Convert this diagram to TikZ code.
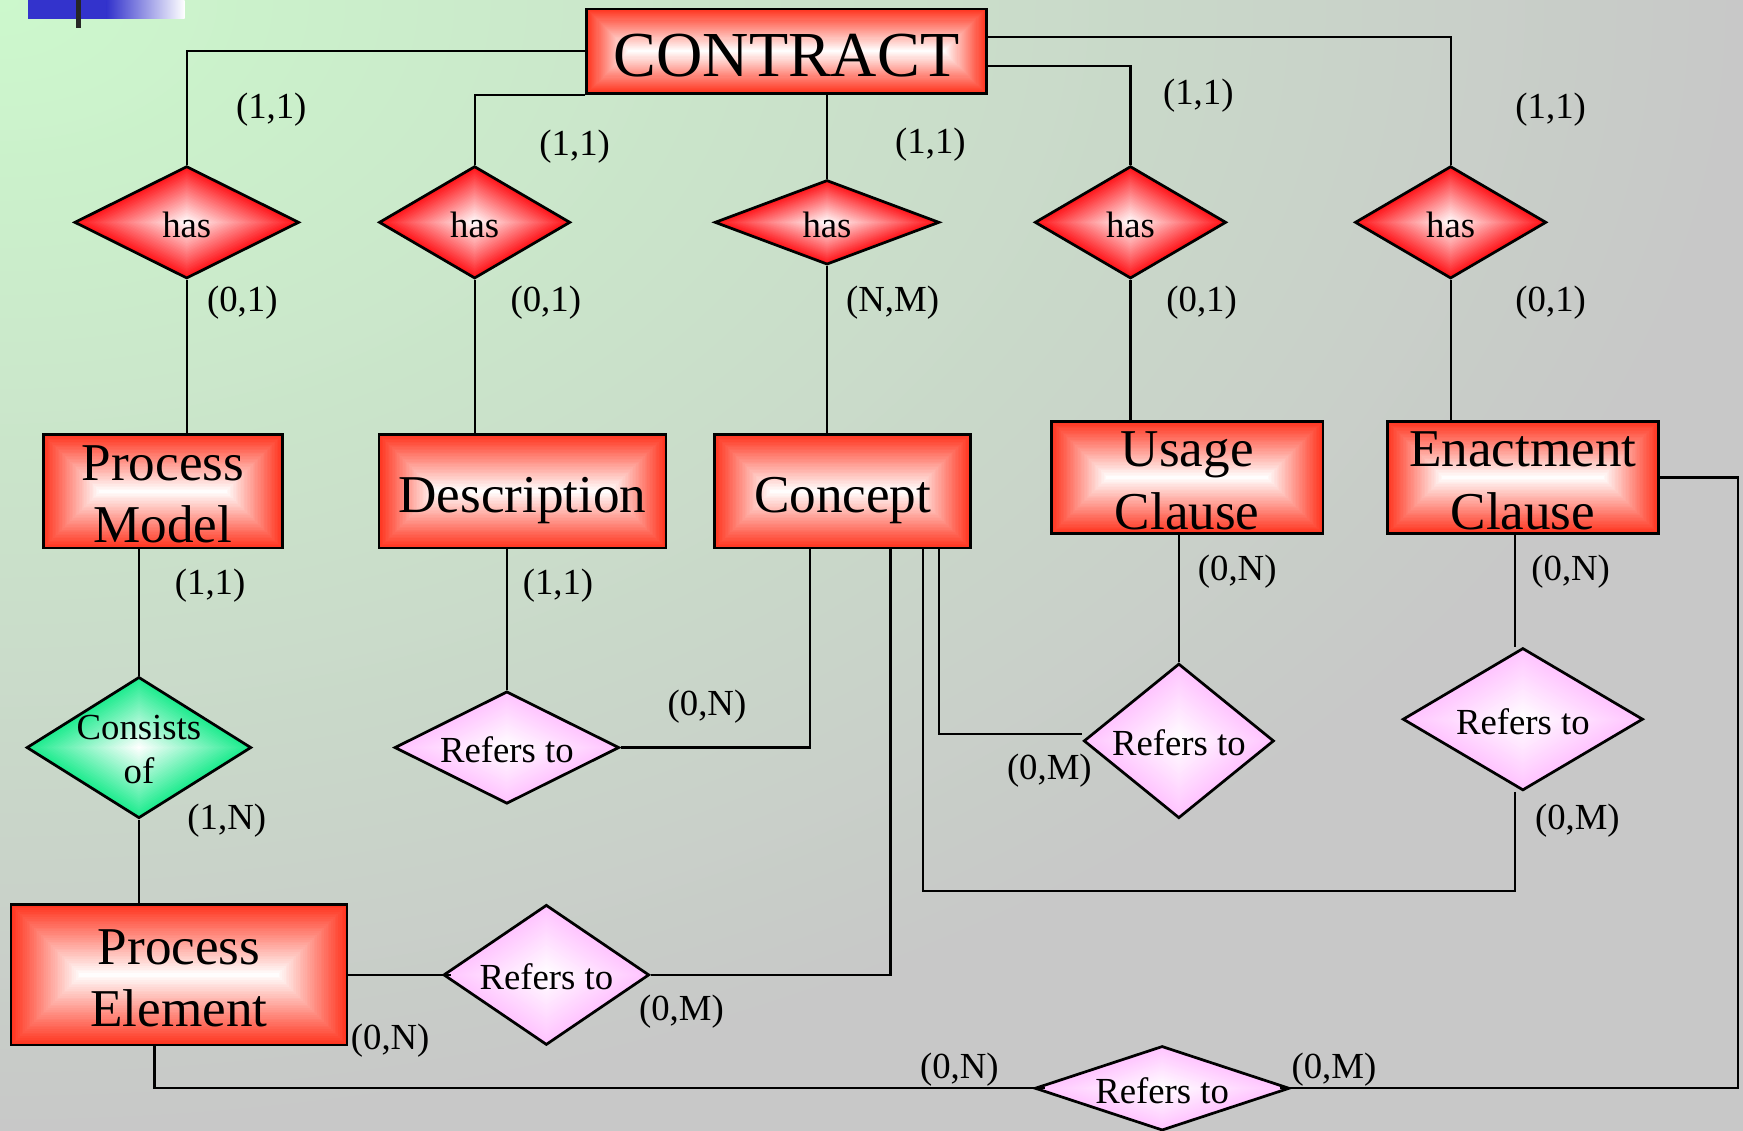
\documentclass[tikz,border=0pt]{standalone}
\usepackage{fontspec}
\setmainfont{Liberation Serif}
\usetikzlibrary{shapes.geometric}
\definecolor{entred}{RGB}{255,50,28}
\definecolor{diared}{RGB}{255,15,20}
\definecolor{pinkc}{RGB}{255,195,255}
\definecolor{greenc}{RGB}{25,235,140}
\definecolor{bgA}{RGB}{204,248,204}
\definecolor{bgC}{RGB}{200,200,200}
\definecolor{blueC}{RGB}{51,51,204}
\newcommand\fSm{\fontsize{9.4pt}{11.2pt}\selectfont}
\newcommand\fEnt{\fontsize{13.6pt}{15.9pt}\selectfont}
\newcommand\fBig{\fontsize{16.4pt}{19pt}\selectfont}
% rectangle gradient (equal inset from every edge): centre x, centre y, half width, half height
\newcommand\rectshade[4]{%
 \foreach \k in {0,...,39}{%
   \pgfmathsetmacro\dd{#4*\k/40}%
   \pgfmathtruncatemacro\pc{100*(1-(\k+0.5)/40)+0.5}%
   \fill[entred!\pc!white] (#1-#3+\dd,#2-#4+\dd) rectangle (#1+#3-\dd,#2+#4-\dd);
 }}
% diamond gradient built from nested diamonds
\newcommand\diashade[5]{%
 \foreach \k in {0,...,39}{%
   \pgfmathsetmacro\sc{1-\k/40}%
   \pgfmathtruncatemacro\pc{100*(1-(\k+0.5)/40)+0.5}%
   \fill[#5!\pc!white, shift={(#1,#2)}, scale=\sc] (-#3,0) -- (0,#4) -- (#3,0) -- (0,-#4) -- cycle;
 }}
\tikzset{
 ent/.style={rectangle, draw=black, line width=0.7pt, inner sep=0pt},
 etext/.style={font=\fEnt, align=center, inner sep=0pt, yshift=-0.03cm},
 dia/.style={shape=diamond, draw=black, line width=0.7pt, inner sep=0pt},
 dtext/.style={font=\fSm, align=center, inner sep=0pt, yshift=-0.02cm},
 lbl/.style={font=\fSm, inner sep=0pt, yshift=-0.02cm},
 conn/.style={draw=black, line width=0.55pt}
}
% name, x, y, half width, half height, text, text options
\newcommand\entnode[7]{%
 \rectshade{#2}{#3}{#4}{#5}
 \node[ent, minimum width=#4*0.02cm, minimum height=#5*0.02cm, label={[etext,#7]center:#6}] (#1) at (#2,#3) {};}
% name, x, y, half width, half height, colour, text
\newcommand\relnode[7]{%
 \diashade{#2}{#3}{#4}{#5}{#6}
 \node[dia, minimum width=#4*0.02cm, minimum height=#5*0.02cm, label={[dtext]center:#7}] (#1) at (#2,#3) {};}
\begin{document}
\begin{tikzpicture}[x=0.01cm,y=0.01cm]
\useasboundingbox (0,0) rectangle (1568,-1017);
\begin{scope}
\clip (0,0) rectangle (1568,-1017);
\shade[inner color=bgA, outer color=bgC] (-1568,1017) rectangle (1568,-1017);
\end{scope}
% corner decoration
\fill[blueC] (25,0) rectangle (96,-17);
\shade[left color=blueC, right color=white] (96,0) rectangle (166,-17);
\fill[black!85] (68,0) rectangle (73,-25);

% entities
\entnode{C}{707.5}{-46}{179.5}{38}{CONTRACT}{font=\fBig, yshift=-0.01cm}
\entnode{PM}{146.5}{-442}{107.5}{51}{Process\\Model}{}
\entnode{Desc}{470}{-442}{129}{51}{Description}{text depth=0pt}
\entnode{Concept}{758}{-442}{115}{51}{Concept}{text depth=0pt}
\entnode{Usage}{1068}{-429.5}{122}{50.5}{Usage\\Clause}{}
\entnode{Enact}{1370}{-429.5}{122}{50.5}{Enactment\\Clause}{}
\entnode{PE}{161}{-877}{151}{63}{Process\\Element}{}

% relationships
\relnode{D1}{168}{-200}{101}{50.5}{diared}{has}
\relnode{D2}{427}{-200}{86}{50.5}{diared}{has}
\relnode{D3}{744}{-200}{101}{38}{diared}{has}
\relnode{D4}{1017}{-200}{86}{50.5}{diared}{has}
\relnode{D5}{1305}{-200}{86}{50.5}{diared}{has}
\relnode{G}{125}{-672.5}{101}{63.5}{greenc}{Consists\\of}
\relnode{D6}{456}{-672.5}{101}{50.5}{pinkc}{Refers to}
\relnode{D7}{1060.5}{-666.5}{85.5}{69.5}{pinkc}{Refers to}
\relnode{D8}{1370}{-647}{108}{64}{pinkc}{Refers to}
\relnode{D9}{491.5}{-877}{92.5}{63}{pinkc}{Refers to}
\relnode{D10}{1045.5}{-979}{114.5}{38}{pinkc}{Refers to}

% connectors
\draw[conn] (C.west) -| (D1.north);
\draw[conn] (C.south west) -| (D2.north);
\draw[conn] (D3.north |- C.south) -- (D3.north);
\draw[conn] ([yshift=-0.13cm]C.east) -| (D4.north);
\draw[conn] ([yshift=0.13cm]C.east) -| (D5.north);
\draw[conn] (D1.south) -- (D1.south |- PM.north);
\draw[conn] (D2.south) -- (D2.south |- Desc.north);
\draw[conn] (D3.south) -- (D3.south |- Concept.north);
\draw[conn] (D4.south) -- (D4.south |- Usage.north);
\draw[conn] (D5.south) -- (D5.south |- Enact.north);
\draw[conn] (G.north) -- (G.north |- PM.south);
\draw[conn] (G.south) -- (G.south |- PE.north);
\draw[conn] (D6.north) -- (D6.north |- Desc.south);
\draw[conn] (D6.east) -| ([xshift=-0.29cm]Concept.south);
\draw[conn] ([xshift=0.87cm]Concept.south) |- ([yshift=0.065cm]D7.west);
\draw[conn] (D7.north |- Usage.south) -- (D7.north);
\draw[conn] ([xshift=-0.07cm]Enact.south) -- ([xshift=-0.07cm]D8.north);
\draw[conn] ([xshift=-0.07cm]D8.south) -- ++(0,-0.89cm) -| ([xshift=0.72cm]Concept.south);
\draw[conn] ([xshift=0.43cm]Concept.south) |- (D9.east);
\draw[conn] (PE.east) -- ([xshift=0.08cm]D9.west);
\draw[conn] ([xshift=-0.22cm]PE.south) |- ([xshift=0.1cm]D10.west);
\draw[conn] ([xshift=-0.1cm]D10.east) -| ([xshift=0.70cm]Enact.east) -- (Enact.east);

% cardinalities
\node[lbl] (c1) at (244,-97) {(1,1)};
\node[lbl] (c2) at (517,-130) {(1,1)};
\node[lbl] (c3) at (837,-128) {(1,1)};
\node[lbl] (c4) at (1078,-84) {(1,1)};
\node[lbl] (c5) at (1395,-97) {(1,1)};
\node[lbl] (c6) at (218,-270) {(0,1)};
\node[lbl] (c7) at (491,-270) {(0,1)};
\node[lbl] (c8) at (803,-270) {(N,M)};
\node[lbl] (c9) at (1081,-270) {(0,1)};
\node[lbl] (c10) at (1395,-270) {(0,1)};
\node[lbl] (c11) at (189,-525) {(1,1)};
\node[lbl] (c12) at (502,-525) {(1,1)};
\node[lbl] (c13) at (204,-736) {(1,N)};
\node[lbl] (c14) at (636,-634) {(0,N)};
\node[lbl] (c15) at (1113,-512) {(0,N)};
\node[lbl] (c16) at (944,-691) {(0,M)};
\node[lbl] (c17) at (1413,-512) {(0,N)};
\node[lbl] (c18) at (1419,-736) {(0,M)};
\node[lbl] (c19) at (613,-908) {(0,M)};
\node[lbl] (c20) at (351,-934) {(0,N)};
\node[lbl] (c21) at (863,-960) {(0,N)};
\node[lbl] (c22) at (1200,-960) {(0,M)};
\end{tikzpicture}
\end{document}
